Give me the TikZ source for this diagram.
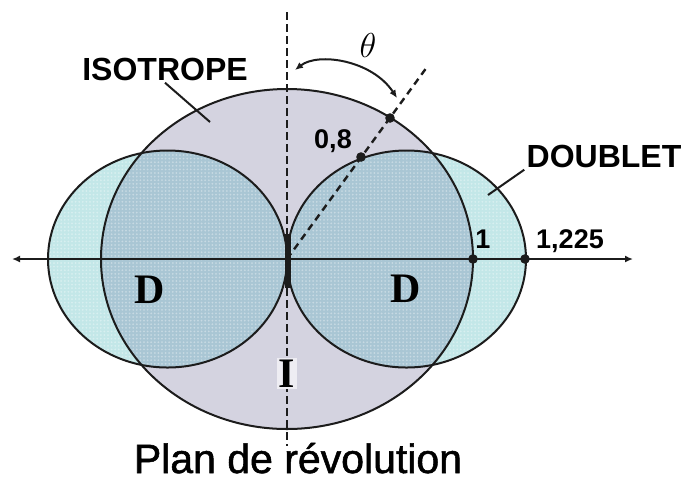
\documentclass[tikz,border=0pt]{standalone}
\usepackage{fontspec}
\setmainfont{Liberation Sans}
\newfontfamily\serifbold{Liberation Serif}
\newfontfamily\planfont{Liberation Sans}[FakeBold=1.3]
\usetikzlibrary{arrows.meta,positioning,patterns.meta}
\definecolor{isofill}{HTML}{D4D3E0}
\definecolor{dblfill}{HTML}{C3E7E8}
\definecolor{bothfill}{HTML}{A9C6D4}
\definecolor{inkline}{HTML}{1C1C1C}

\begin{document}
\begin{tikzpicture}[
  x=0.5pt,y=-0.5pt,
  outline/.style={draw=inkline,line width=1pt},
  axisline/.style={{Latex[length=4pt,width=3.5pt]}-{Latex[length=4pt,width=3.5pt]},draw=inkline,line width=1pt},
  dashline/.style={draw=inkline,line width=1.4pt,dash pattern=on 4pt off 2pt},
  dot/.style={circle,fill=inkline,inner sep=0pt,minimum size=4.8pt},
  tag/.style={font=\fontsize{16}{16}\selectfont\bfseries,inner sep=1pt,anchor=base},
  numtag/.style={font=\fontsize{13.5}{13.5}\selectfont\bfseries,inner sep=1pt,anchor=base},
  bigletter/.style={font=\serifbold\fontsize{21}{21}\selectfont\bfseries,inner sep=1pt,anchor=base},
]
\useasboundingbox (0,0) rectangle (686,479);

\coordinate (O) at (287,259);
\coordinate (dblL) at (167.5,259);
\coordinate (dblR) at (406.5,259);

% fills
\fill[isofill] (O) ellipse [x radius=186,y radius=170];
\fill[dblfill] (dblL) ellipse [x radius=119.5,y radius=108.5]
               (dblR) ellipse [x radius=119.5,y radius=108.5];
\begin{scope}
  \clip (O) ellipse [x radius=186,y radius=170];
  \fill[bothfill] (dblL) ellipse [x radius=119.5,y radius=108.5]
                  (dblR) ellipse [x radius=119.5,y radius=108.5];
\end{scope}
\fill[pattern={Dots[radius=0.5pt,distance=1.8pt]},pattern color=white,fill opacity=0.35]
  (dblL) ellipse [x radius=119.5,y radius=108.5]
  (dblR) ellipse [x radius=119.5,y radius=108.5];

% outlines
\draw[outline] (O) ellipse [x radius=186,y radius=170];
\draw[outline] (dblL) ellipse [x radius=119.5,y radius=108.5];
\draw[outline] (dblR) ellipse [x radius=119.5,y radius=108.5];

% axes
\coordinate (vtop) at (287,12);
\coordinate (vbot) at (287,446);
\coordinate (axl) at (12,259);
\coordinate (axr) at (633,259);
\coordinate (raytip) at (427,67);
\draw[dashline] (vtop) -- (vbot);
\draw[dashline,line width=1.2pt,dash pattern=on 3.5pt off 2.5pt] (O) -- (raytip);
\draw[axisline] (axl) -- (axr);
\fill[inkline] (284.5,234) rectangle (291,288);

% points
\node[dot] (pone)  at (473,259) {};
\node[dot] (pdbl)  at (525,259) {};
\node[dot] (piso)  at (390,118) {};
\node[dot] (pzero) at (361,157) {};

% labels
\node[tag] (isolabel) at (165,80) {ISOTROPE};
\node[tag] (dbllabel) at (604,167) {DOUBLET};
\node[numtag] (zerolabel) at (333,148) {0,8};
\node[numtag] (onelabel) at (483,248) {1};
\node[numtag] (dbllen) at (570,248) {1,225};
\node[bigletter] (dleft)  at (150,303) {D};
\node[bigletter] (dright) at (406,302) {D};
\node[bigletter,fill=white!60!isofill] (ilabel) at (287,387) {I};
\node[font=\fontsize{16}{16}\selectfont] (theta) at (368,45) {$\theta$};
\node[font=\planfont\fontsize{20.5}{20.5}\selectfont,anchor=base] (plan) at (298,473) {Plan de révolution};

% leaders
\coordinate (isotip) at (210,122);
\coordinate (dbltip) at (488,195);
\draw[outline] (isolabel.south) -- (isotip);
\draw[outline] (dbllabel.south west) -- (dbltip);

% angle
\coordinate (thA) at (295,70);
\coordinate (thB) at (397,98);
\draw[outline,{Latex[length=4pt,width=3.5pt]}-{Latex[length=4pt,width=3.5pt]}]
  (thA) .. controls (318,52) and (372,60) .. (thB);
\end{tikzpicture}
\end{document}
